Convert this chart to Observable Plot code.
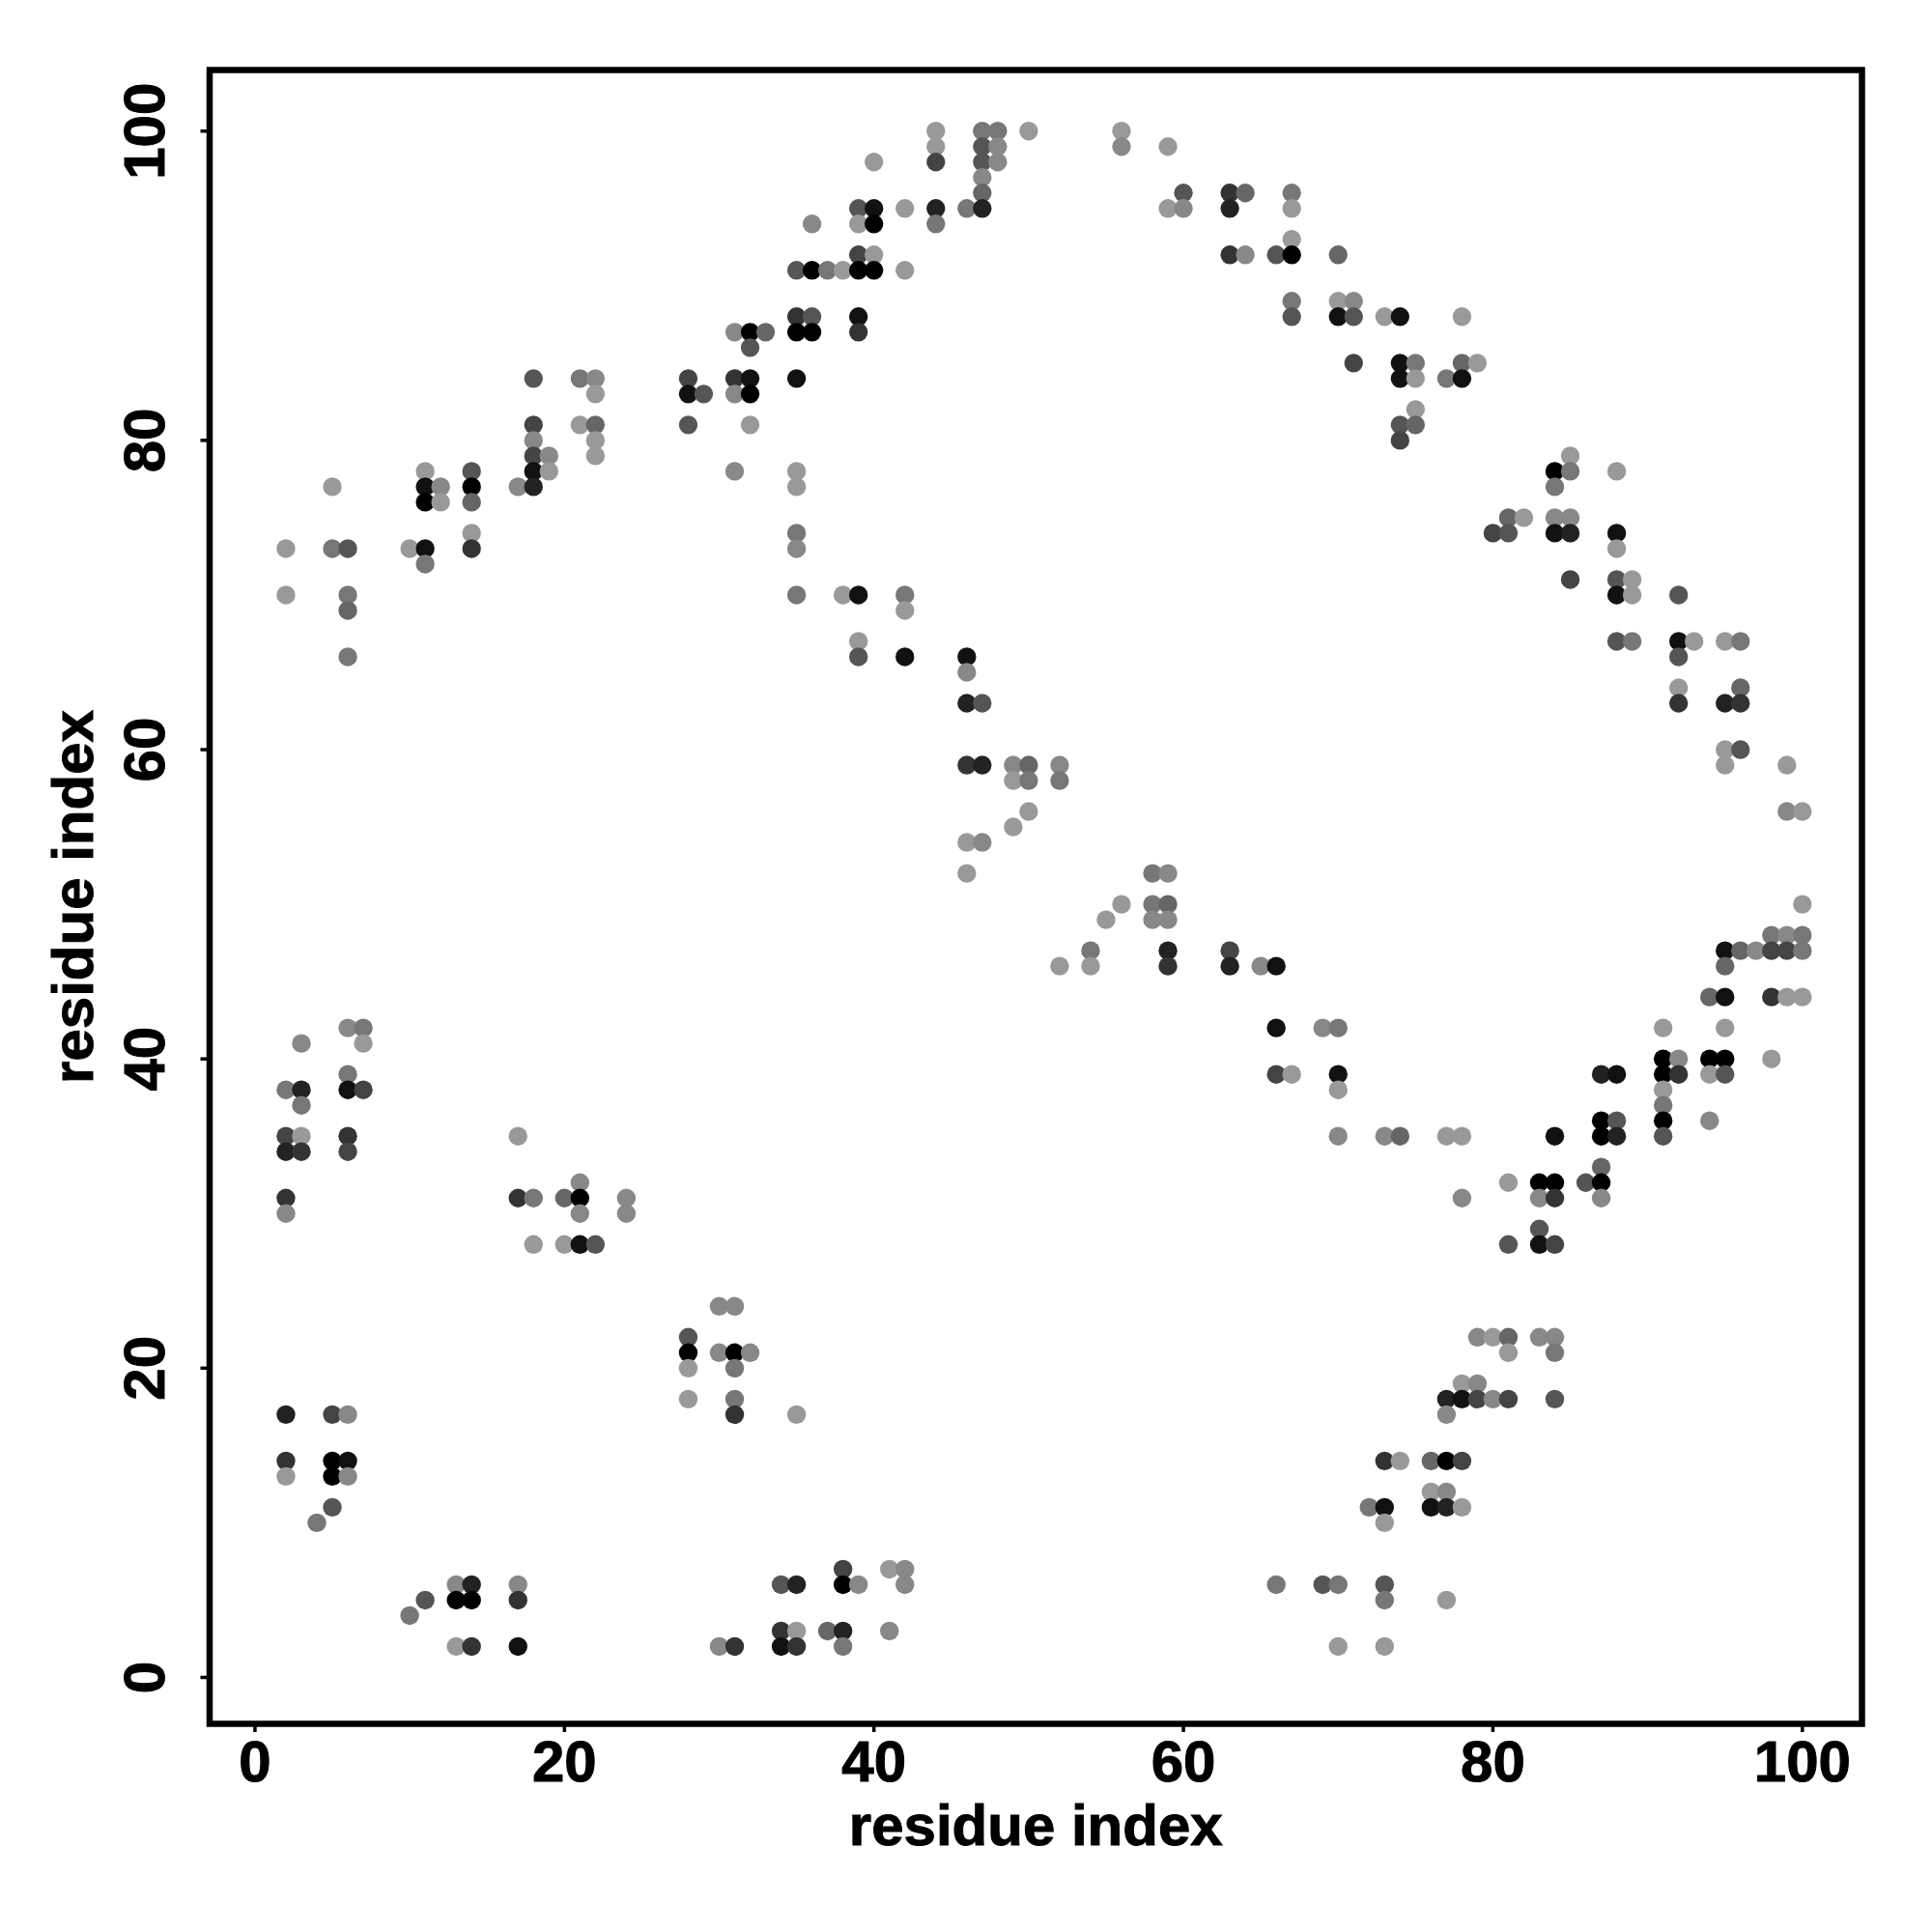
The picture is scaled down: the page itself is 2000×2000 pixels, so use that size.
<!DOCTYPE html>
<html>
<head>
<meta charset="utf-8">
<script src="https://cdn.jsdelivr.net/npm/d3@7"></script>
<script src="https://cdn.jsdelivr.net/npm/@observablehq/plot@0.6"></script>
<style>html,body{margin:0;padding:0;background:#fff} svg text{stroke:#000;stroke-width:1px}</style>
</head>
<body>
<div id="chart"></div>
<script>
// One entry per horizontal row of contacts: y value, x values, grey shade digit (0 black .. 9 light)
const rowY = [100,99,98,97,96,95,94,93,92,91,89,88,87,86,85,84,83,82,81,80,79,78,77,76,75,74,73,72,71,70,69,67,66,65,64,63,60,59,58,56,55,54,52,50,49,48,47,46,44,42,41,40,39,38,37,36,35,34,33,32,31,30,29,28,24,22,21,20,19,18,17,14,13,12,11,10,7,6,5,4,3,2];
const rowX = [
[44,47,48,50,56],
[44,47,48,56,59],
[40,44,47,48],
[47],
[47,60,63,64,67],
[39,40,42,44,46,47,59,60,63,67],
[36,39,40,44],
[67],
[39,40,63,64,66,67,70],
[35,36,37,38,39,40,42],
[67,70,71],
[35,36,39,67,70,71,73,74,78],
[31,32,33,35,36,39],
[32],
[71,74,75,78,79],
[18,21,22,28,31,32,35,74,75,77,78],
[22,28,29,31,32],
[75],
[18,21,22,28,32,74,75],
[18,22,74],
[18,19,22,85],
[11,14,18,19,31,35,84,85,88],
[5,11,12,14,17,18,35,84],
[11,12,14],
[81,82,84,85],
[14,35,80,81,84,85,88],
[2,5,6,10,11,14,35,88],
[11],
[85,88,89],
[2,6,35,38,39,42,88,89,92],
[6,42],
[39,88,89,92,93,95,96],
[6,39,42,46,92],
[46],
[92,96],
[46,47,92,95,96],
[95,96],
[46,47,49,50,52,95,99],
[49,50,52],
[50,99,100],
[49],
[46,47],
[46,58,59],
[56,58,59,100],
[55,58,59],
[98,99,100],
[54,59,63,95,96,97,98,99,100],
[52,54,59,63,65,66,95],
[94,95,98,99,100],
[6,7,66,69,70,91,95],
[3,7],
[91,92,94,95,98],
[6,66,67,70,87,88,91,92,94,95],
[2,3,6,7,70,91],
[3,91],
[87,88,91,94],
[2,3,6,17,70,73,74,77,78,84,87,88,91],
[2,3,6],
[87],
[21,81,83,84,86,87],
[2,17,18,20,21,24,78,83,84,87],
[2,21,24],
[83],
[18,20,21,22,81,83,84],
[30,31],
[28,79,80,81,83,84],
[28,30,31,32,81,84],
[28,31],
[78,79],
[28,31,77,78,79,80,81,84],
[2,5,6,31,35,77],
[2,5,6,73,74,76,77,78],
[2,5,6],
[76,77],
[5,72,73,76,77,78],
[4,73],
[38,41,42],
[13,14,17,34,35,38,39,42,66,69,70,73],
[11,13,14,17,73,77],
[10],
[34,35,37,38,41],
[13,14,17,30,31,34,35,38,70,73]
];
const rowShade = [
[9,7,7,9,9],
[9,5,8,8,9],
[9,4,5,8],
[8],
[6,5,3,6,7],
[5,1,9,2,7,2,9,8,2,9],
[8,9,0,7],
[9],
[4,9,3,8,5,0,6],
[5,0,7,9,0,0,9],
[7,9,8],
[3,5,1,5,1,5,9,1,9],
[8,0,6,0,0,3],
[5],
[4,1,7,6,9],
[5,7,8,4,3,1,1,1,9,7,1],
[9,1,5,8,0],
[9],
[4,9,6,5,9,5,6],
[8,9,4],
[4,8,9,9],
[9,5,1,9,8,9,0,7,9],
[9,1,8,0,8,2,9,7],
[0,9,6],
[6,9,8,8],
[9,7,4,5,1,2,1],
[9,7,5,9,1,3,8,9],
[7],
[4,5,9],
[9,7,7,9,1,7,1,9,5],
[6,9],
[9,5,7,1,9,9,7],
[7,5,1,1,5],
[8],
[9,6],
[2,5,3,2,3],
[9,5],
[3,2,8,6,8,9,9],
[9,7,7],
[9,8,9],
[9],
[9,8],
[9,7,8],
[9,7,6,9],
[9,8,8],
[7,8,7],
[7,2,4,1,6,8,4,4,7],
[9,9,3,2,8,1,6],
[6,1,3,9,9],
[8,7,1,8,7,9,9],
[8,9],
[0,8,0,0,9],
[7,4,9,1,2,1,0,3,9,5],
[7,2,1,4,9,9],
[7,7],
[0,5,0,8],
[4,9,3,9,8,8,6,9,9,1,0,2,5],
[2,3,4],
[6],
[8,9,0,0,5,0],
[3,3,7,6,0,8,8,8,3,8],
[8,8,8],
[5],
[9,9,1,5,5,1,4],
[8,8],
[5,8,9,6,8,8],
[0,8,0,8,9,7],
[9,7],
[9,8],
[9,7,2,1,4,8,4,5],
[2,4,8,3,9,8],
[3,0,1,3,9,6,0,4],
[9,0,8],
[9,8],
[5,7,1,1,2,9],
[7,9],
[4,9,8],
[8,2,8,5,2,0,8,8,7,5,7,5],
[5,0,0,3,7,9],
[7],
[3,9,6,2,8],
[9,3,1,8,3,1,3,7,9,9]
];
const tickValues = [0,20,40,60,80,100];
const axisTitle = "residue index";

const contacts = rowY.flatMap((y, i) =>
  rowX[i].map((x, j) => ({x, y, shade: "#" + String(rowShade[i][j]).repeat(3)}))
);

const plot = Plot.plot({
  width: 2000,
  height: 2000,
  marginLeft: 216.5,
  marginRight: 73,
  marginTop: 72,
  marginBottom: 216,
  style: {fontFamily: "'Liberation Sans', Arial, sans-serif", fontWeight: "bold", background: "#fff", color: "#000"},
  x: {domain: [-2.93, 103.85], label: null},
  y: {domain: [-3, 103.95], label: null},
  marks: [
    Plot.dot(contacts, {x: "x", y: "y", fill: d => d.shade, r: 9.7, stroke: "none"}),
    Plot.frame({stroke: "#000", strokeWidth: 6.5}),
    Plot.axisX({ticks: tickValues, tickSize: 9, strokeWidth: 3.5, stroke: "#000", fontSize: 60, fill: "#000", tickPadding: 8, label: axisTitle, labelAnchor: "center", labelArrow: "none", labelOffset: 125}),
    Plot.axisY({ticks: tickValues, tickSize: 9, strokeWidth: 3.5, stroke: "#000", fontSize: 60, fill: "#000", tickPadding: 38, tickRotate: -90, label: axisTitle, labelAnchor: "center", labelArrow: "none", labelOffset: 164})
  ]
});
document.getElementById("chart").appendChild(plot);
</script>
</body>
</html>
